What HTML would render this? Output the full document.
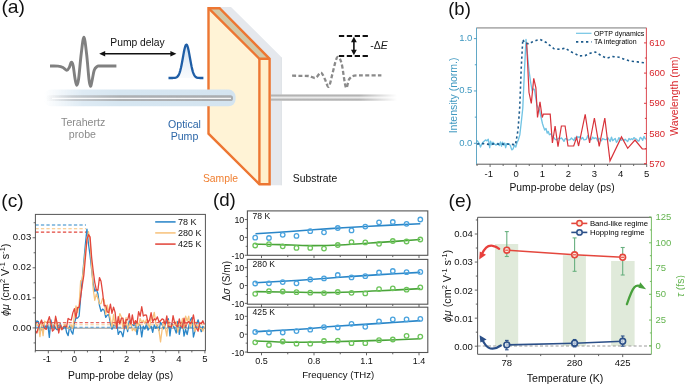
<!DOCTYPE html>
<html><head><meta charset="utf-8"><title>Figure</title>
<style>
html,body{margin:0;padding:0;background:#ffffff;width:685px;height:384px;overflow:hidden;}
svg{display:block;will-change:transform;}
text{font-family:"Liberation Sans", sans-serif;}
</style></head><body>
<svg width="685" height="384" viewBox="0 0 685 384">
<rect width="685" height="384" fill="#ffffff"/>
<defs>
<linearGradient id="glowH" x1="0" y1="0" x2="1" y2="0">
<stop offset="0" stop-color="#d8e7f2" stop-opacity="0"/>
<stop offset="0.2" stop-color="#d8e7f2" stop-opacity="0.85"/>
<stop offset="0.4" stop-color="#d6e6f1" stop-opacity="1"/>
<stop offset="1" stop-color="#d4e4f0" stop-opacity="1"/>
</linearGradient>
<linearGradient id="tubeH" x1="0" y1="0" x2="1" y2="0">
<stop offset="0" stop-color="#b4b6b8" stop-opacity="0"/>
<stop offset="0.15" stop-color="#b4b6b8" stop-opacity="0.6"/>
<stop offset="0.4" stop-color="#abaeb1" stop-opacity="0.95"/>
<stop offset="1" stop-color="#aaadb0" stop-opacity="1"/>
</linearGradient>
<linearGradient id="beamR" x1="0" y1="0" x2="1" y2="0">
<stop offset="0" stop-color="#b4b6b8" stop-opacity="1"/>
<stop offset="0.7" stop-color="#c0c0c0" stop-opacity="0.9"/>
<stop offset="1" stop-color="#d0d0d0" stop-opacity="0"/>
</linearGradient>
<linearGradient id="beamRc" x1="0" y1="0" x2="1" y2="0">
<stop offset="0" stop-color="#f4f4f4" stop-opacity="1"/>
<stop offset="1" stop-color="#ffffff" stop-opacity="0.6"/>
</linearGradient>
<linearGradient id="beamV" x1="0" y1="0" x2="0" y2="1">
<stop offset="0" stop-color="#c4c4c4"/>
<stop offset="0.2" stop-color="#b2b2b2"/>
<stop offset="0.5" stop-color="#ececec"/>
<stop offset="0.8" stop-color="#b2b2b2"/>
<stop offset="1" stop-color="#c8c8c8"/>
</linearGradient>
<linearGradient id="fadeRg" x1="271" y1="0" x2="397" y2="0" gradientUnits="userSpaceOnUse">
<stop offset="0" stop-color="#fff"/>
<stop offset="0.7" stop-color="#fff"/>
<stop offset="1" stop-color="#000"/>
</linearGradient>
<mask id="fadeR" maskUnits="userSpaceOnUse" x="260" y="85" width="150" height="25"><rect x="260" y="85" width="150" height="25" fill="url(#fadeRg)"/></mask>
<linearGradient id="pulseFill" x1="0" y1="0" x2="0" y2="1">
<stop offset="0" stop-color="#c9dcef" stop-opacity="0.9"/>
<stop offset="1" stop-color="#eef4fa" stop-opacity="0.4"/>
</linearGradient>
<filter id="blur05" x="-5%" y="-50%" width="110%" height="200%"><feGaussianBlur stdDeviation="0.55"/></filter>
<filter id="blur1" x="-10%" y="-50%" width="120%" height="200%"><feGaussianBlur stdDeviation="0.9"/></filter>
</defs>
<text x="1.4" y="12.9" font-size="17.8" fill="#111" text-anchor="start" textLength="23.6" lengthAdjust="spacingAndGlyphs">(a)</text>
<polygon points="219,6.9 231,6.9 281.8,57.5 281.8,185.3 268,185.3 268,58" fill="#e5e8ed"/>
<line x1="281.4" y1="57.5" x2="281.4" y2="185.3" stroke="#dcdfe4" stroke-width="0.8"/>
<g mask="url(#fadeR)"><rect x="271" y="94.3" width="126" height="6.6" fill="url(#beamV)" filter="url(#blur05)"/></g>
<polygon points="208.5,8.2 259.4,58.8 259.4,184.2 208.5,133.7" fill="#fff3d6"/>
<polygon points="208.5,8.2 219.6,8.2 269.6,58.8 259.4,58.8" fill="#d1c9a8"/>
<polygon points="259.4,58.8 269.6,58.8 269.6,184.2 259.4,184.2" fill="#ffefcb"/>
<polyline points="208.5,8.2 259.4,58.8 269.6,58.8" fill="none" stroke="#ed7632" stroke-width="2.4" stroke-linejoin="miter"/>
<line x1="259.4" y1="58.8" x2="259.4" y2="184.2" stroke="#ed7632" stroke-width="2.4"/>
<polygon points="208.5,8.2 219.6,8.2 269.6,58.8 269.6,184.2 259.4,184.2 208.5,133.7" fill="none" stroke="#ed7632" stroke-width="2.4" stroke-linejoin="miter"/>
<rect x="44" y="89.6" width="191.6" height="16.6" rx="7" fill="url(#glowH)" filter="url(#blur05)"/>
<rect x="46" y="95.2" width="187" height="5.8" rx="2.6" fill="url(#tubeH)" filter="url(#blur05)"/>
<rect x="52" y="97.8" width="179" height="1.1" fill="#ffffff"/>
<path d="M50,66 C51.33,66.02 55.83,65.85 58,66.1 C60.17,66.35 61.53,66.78 63,67.5 C64.47,68.22 65.73,70.45 66.8,70.4 C67.87,70.35 68.67,68.57 69.4,67.2 C70.13,65.83 70.58,62.48 71.2,62.2 C71.82,61.92 72.47,62.78 73.1,65.5 C73.73,68.22 74.4,75.2 75,78.5 C75.6,81.8 76.1,85.22 76.7,85.3 C77.3,85.38 77.85,84.22 78.6,79 C79.35,73.78 80.32,60.97 81.2,54 C82.08,47.03 83,37.2 83.9,37.2 C84.8,37.2 85.75,46.95 86.6,54 C87.45,61.05 88.35,74.12 89,79.5 C89.65,84.88 89.98,86.13 90.5,86.3 C91.02,86.47 91.48,83.18 92.1,80.5 C92.72,77.82 93.38,72.52 94.2,70.2 C95.02,67.88 96.03,67.3 97,66.6 C97.97,65.9 96.77,66.1 100,66 C103.23,65.9 113.67,66 116.4,66" fill="none" stroke="#808080" stroke-width="2.9" stroke-linejoin="round" stroke-linecap="butt"/>
<line x1="103" y1="53.7" x2="172.5" y2="53.7" stroke="#111" stroke-width="1.5" />
<polygon points="99.2,53.7 105.2,50.9 105.2,56.5" fill="#111"/>
<polygon points="176.4,53.7 170.4,50.9 170.4,56.5" fill="#111"/>
<text x="110.3" y="45.7" font-size="10.3" fill="#111" text-anchor="start" >Pump delay</text>
<path d="M168.5,78 L169.09,78 L169.68,78 L170.27,78 L170.87,78 L171.46,78 L172.05,77.99 L172.64,77.98 L173.23,77.97 L173.82,77.94 L174.42,77.89 L175.01,77.81 L175.6,77.69 L176.19,77.48 L176.78,77.17 L177.37,76.72 L177.96,76.06 L178.56,75.15 L179.15,73.93 L179.74,72.34 L180.33,70.35 L180.92,67.94 L181.51,65.15 L182.11,62.03 L182.7,58.7 L183.29,55.33 L183.88,52.09 L184.47,49.22 L185.06,46.91 L185.65,45.33 L186.25,44.63 L186.84,44.85 L187.43,45.98 L188.02,47.93 L188.61,50.54 L189.2,53.61 L189.79,56.94 L190.39,60.31 L190.98,63.56 L191.57,66.53 L192.16,69.14 L192.75,71.35 L193.34,73.15 L193.94,74.55 L194.53,75.62 L195.12,76.4 L195.71,76.96 L196.3,77.34 L196.89,77.59 L197.48,77.75 L198.08,77.86 L198.67,77.92 L199.26,77.96 L199.85,77.98 L200.44,77.99 L201.03,77.99 L201.63,78 L202.22,78 L202.81,78 L203.4,78 L203.4,78 Z" fill="url(#pulseFill)" stroke="none"/>
<path d="M168.5,78 L169.09,78 L169.68,78 L170.27,78 L170.87,78 L171.46,78 L172.05,77.99 L172.64,77.98 L173.23,77.97 L173.82,77.94 L174.42,77.89 L175.01,77.81 L175.6,77.69 L176.19,77.48 L176.78,77.17 L177.37,76.72 L177.96,76.06 L178.56,75.15 L179.15,73.93 L179.74,72.34 L180.33,70.35 L180.92,67.94 L181.51,65.15 L182.11,62.03 L182.7,58.7 L183.29,55.33 L183.88,52.09 L184.47,49.22 L185.06,46.91 L185.65,45.33 L186.25,44.63 L186.84,44.85 L187.43,45.98 L188.02,47.93 L188.61,50.54 L189.2,53.61 L189.79,56.94 L190.39,60.31 L190.98,63.56 L191.57,66.53 L192.16,69.14 L192.75,71.35 L193.34,73.15 L193.94,74.55 L194.53,75.62 L195.12,76.4 L195.71,76.96 L196.3,77.34 L196.89,77.59 L197.48,77.75 L198.08,77.86 L198.67,77.92 L199.26,77.96 L199.85,77.98 L200.44,77.99 L201.03,77.99 L201.63,78 L202.22,78 L202.81,78 L203.4,78" fill="none" stroke="#1f5ea6" stroke-width="2.3" stroke-linejoin="round"/>
<path d="M292.1,75.7 C293.42,75.72 297.23,75.75 300,75.8 C302.77,75.85 306.12,75.65 308.7,76 C311.28,76.35 313.47,78.47 315.5,77.9 C317.53,77.33 319.35,72.42 320.9,72.6 C322.45,72.78 323.5,76.65 324.8,79 C326.1,81.35 327.43,87.53 328.7,86.7 C329.97,85.87 331.22,78.37 332.4,74 C333.58,69.63 334.82,63.32 335.8,60.5 C336.78,57.68 337.32,56.55 338.3,57.1 C339.28,57.65 340.43,58.73 341.7,63.8 C342.97,68.87 344.63,84.97 345.9,87.5 C347.17,90.03 347.88,80.97 349.3,79 C350.72,77.03 351.78,76.3 354.4,75.7 C357.02,75.1 360.5,75.47 365,75.4 C369.5,75.33 378.67,75.32 381.4,75.3" fill="none" stroke="#8a8a8a" stroke-width="2.3" stroke-dasharray="4 2.3"/>
<line x1="338.9" y1="36" x2="368.5" y2="36" stroke="#111" stroke-width="2" stroke-dasharray="5.3 2.6"/>
<line x1="338.9" y1="56" x2="368.5" y2="56" stroke="#111" stroke-width="2" stroke-dasharray="5.3 2.6"/>
<line x1="353.9" y1="40" x2="353.9" y2="52" stroke="#111" stroke-width="1.6" />
<polygon points="353.9,36.8 351,42.2 356.8,42.2" fill="#111"/>
<polygon points="353.9,55.2 351,49.8 356.8,49.8" fill="#111"/>
<text x="370.2" y="48.8" font-size="10.5" fill="#1a1a1a">-&#916;<tspan font-style="italic">E</tspan></text>
<text x="83.2" y="126.4" font-size="10.6" fill="#8a8a8a" text-anchor="middle" >Terahertz</text>
<text x="82.4" y="138" font-size="10.6" fill="#8a8a8a" text-anchor="middle" >probe</text>
<text x="184.5" y="127.8" font-size="10.6" fill="#2d67a8" text-anchor="middle" >Optical</text>
<text x="184.5" y="139.6" font-size="10.6" fill="#2d67a8" text-anchor="middle" >Pump</text>
<text x="220.5" y="181.5" font-size="10.4" fill="#f07f30" text-anchor="middle" >Sample</text>
<text x="315" y="181.5" font-size="10.4" fill="#111" text-anchor="middle" >Substrate</text>
<text x="448.2" y="14.9" font-size="17.8" fill="#111" text-anchor="start" textLength="22.6" lengthAdjust="spacingAndGlyphs">(b)</text>
<defs><clipPath id="cb"><rect x="476.5" y="27.8" width="169.9" height="136.4"/></clipPath></defs>
<polyline points="476,140 477.5,141.1 479.3,143.7 480.5,147 481.8,144 483.3,141.9 485.5,139.9 487,140.8 488.3,139.3 489.1,144 489.7,147.7 490.6,141.1 491.7,144.8 492.9,142.2 494.2,143.7 496.1,145.1 497.9,143.3 499.4,145.5 500.5,141.9 501.5,146.2 502.6,142.2 503.7,145.1 504.8,143 505.6,147.7 506.7,143.7 508.8,143.7 510.3,145.5 511.8,149.9 513.2,148.8 514.3,145.1 515.8,147 516.9,143 518.3,140 519.8,134.9 521.3,122 522.8,108 524.4,72 526,39.4 527.5,55 529,70.6 530.6,82 532.2,91 533.3,89 534.4,89.4 535.6,97 536.9,105 538.2,108 539.4,109.7 541,117 542.5,123.75 543.6,127 544.7,130 546,128.5 547.2,133 548.3,131.5 549.4,134.7 551,133.8 552.2,136.5 554,137.8 555.2,139.4 556.45,139.85 557.7,138.99 558.95,138.06 560.2,138.72 561.45,137.91 562.7,139.49 563.95,141.41 565.2,138.66 566.45,138.47 567.7,140.13 568.95,139.94 570.2,139.56 571.45,138 572.7,139.36 573.95,140.44 575.2,137.38 576.45,138.71 577.7,136.55 578.95,137.47 580.2,136.64 581.45,139.05 582.7,137.5 583.95,139.81 585.2,139.64 586.45,139.12 587.7,135.62 588.95,138.59 590.2,139.33 591.45,139.57 592.7,137.1 593.95,138.68 595.2,137.93 596.45,138.19 597.7,140.99 598.95,138.19 600.2,139.35 601.45,140.73 602.7,138.52 603.95,139.23 605.2,139.57 606.45,139.5 607.7,137.56 608.95,139.51 610.2,141.44 611.45,137.08 612.7,140.69 613.95,139.58 615.2,138.44 616.45,142.4 617.7,140.54 618.95,137.6 620.2,139.51 621.45,140.27 622.7,139.12 623.95,140.42 625.2,139.3 626.45,140.4 627.7,141.56 628.95,138.39 630.2,139.7 631.45,138.71 632.7,139.59 633.95,137.62 635.2,138.53 636.45,139.11 637.7,140.75 638.95,141.12 640.2,137.41 641.45,138.21 642.7,140.37 643.95,136.41 645.2,138.71 646.45,139.25" fill="none" stroke="#72c4e4" stroke-width="1.35" stroke-linejoin="round" clip-path="url(#cb)"/>
<polyline points="526.6,42.5 529,92.5 531.3,103.4 533.75,78.4 535.9,87.8 537.5,117.5 540,101.9 542.2,117.5 543.4,114.1 550.2,114.1 552.4,143 555.1,126 558,146.6 561.4,126 565.1,126 568,146 573.7,146 576.6,137.4 578.6,146 585.2,114.4 589.6,143 594.4,118 599.2,146.3 604.8,118 610,160.8 621.5,136.9 627.7,148.3 635,140 642.3,149 646.5,149" fill="none" stroke="#d8323a" stroke-width="1.2" stroke-linejoin="miter" clip-path="url(#cb)"/>
<polyline points="477,144 483,143.6 489,144.4 495,143.8 501,144.2 507,144 512,144.4 515.5,144.8 518,130 519.7,108 521.25,67.5 522.8,39.4 524.4,42.5 529,44 532.2,41.9 536,40.5 540,39.4 546.25,42.5 554,48.75 560.3,49.4 565.3,48 570.5,51.7 575.1,53.6 579,55.9 585,55.6 590.2,53.2 595.5,52 600.7,55.3 606.6,58.2 612.6,56.6 619.1,57.2 625,59.5 631,61.2 637.5,61.9 644.1,62.8 646.4,63.2" fill="none" stroke="#1d5b8c" stroke-width="1.6" stroke-dasharray="2.3 2.7" clip-path="url(#cb)"/>
<line x1="476.5" y1="27.9" x2="646.4" y2="27.9" stroke="#b2b2b2" stroke-width="1.7" />
<line x1="476" y1="164.2" x2="646.9" y2="164.2" stroke="#5a5a5a" stroke-width="1" />
<line x1="476.5" y1="27.8" x2="476.5" y2="164.2" stroke="#62a8c6" stroke-width="1" />
<line x1="646.4" y1="27.8" x2="646.4" y2="164.2" stroke="#dc4a52" stroke-width="1" />
<line x1="477.05" y1="164.2" x2="477.05" y2="166" stroke="#5a5a5a" stroke-width="0.9" />
<line x1="490.1" y1="164.2" x2="490.1" y2="167" stroke="#5a5a5a" stroke-width="0.9" />
<line x1="503.15" y1="164.2" x2="503.15" y2="166" stroke="#5a5a5a" stroke-width="0.9" />
<line x1="516.2" y1="164.2" x2="516.2" y2="167" stroke="#5a5a5a" stroke-width="0.9" />
<line x1="529.25" y1="164.2" x2="529.25" y2="166" stroke="#5a5a5a" stroke-width="0.9" />
<line x1="542.3" y1="164.2" x2="542.3" y2="167" stroke="#5a5a5a" stroke-width="0.9" />
<line x1="555.35" y1="164.2" x2="555.35" y2="166" stroke="#5a5a5a" stroke-width="0.9" />
<line x1="568.4" y1="164.2" x2="568.4" y2="167" stroke="#5a5a5a" stroke-width="0.9" />
<line x1="581.45" y1="164.2" x2="581.45" y2="166" stroke="#5a5a5a" stroke-width="0.9" />
<line x1="594.5" y1="164.2" x2="594.5" y2="167" stroke="#5a5a5a" stroke-width="0.9" />
<line x1="607.55" y1="164.2" x2="607.55" y2="166" stroke="#5a5a5a" stroke-width="0.9" />
<line x1="620.6" y1="164.2" x2="620.6" y2="167" stroke="#5a5a5a" stroke-width="0.9" />
<line x1="633.65" y1="164.2" x2="633.65" y2="166" stroke="#5a5a5a" stroke-width="0.9" />
<line x1="646.7" y1="164.2" x2="646.7" y2="167" stroke="#5a5a5a" stroke-width="0.9" />
<text x="488.7" y="176.7" font-size="9.5" fill="#111" text-anchor="middle" >-1</text>
<text x="516.2" y="176.7" font-size="9.5" fill="#111" text-anchor="middle" >0</text>
<text x="542.3" y="176.7" font-size="9.5" fill="#111" text-anchor="middle" >1</text>
<text x="568.4" y="176.7" font-size="9.5" fill="#111" text-anchor="middle" >2</text>
<text x="594.5" y="176.7" font-size="9.5" fill="#111" text-anchor="middle" >3</text>
<text x="620.6" y="176.7" font-size="9.5" fill="#111" text-anchor="middle" >4</text>
<text x="646.7" y="176.7" font-size="9.5" fill="#111" text-anchor="middle" >5</text>
<line x1="473.9" y1="143.3" x2="476.5" y2="143.3" stroke="#3f98c0" stroke-width="0.9" />
<line x1="474.8" y1="117.13" x2="476.5" y2="117.13" stroke="#3f98c0" stroke-width="0.9" />
<line x1="473.9" y1="90.95" x2="476.5" y2="90.95" stroke="#3f98c0" stroke-width="0.9" />
<line x1="474.8" y1="64.78" x2="476.5" y2="64.78" stroke="#3f98c0" stroke-width="0.9" />
<line x1="473.9" y1="38.6" x2="476.5" y2="38.6" stroke="#3f98c0" stroke-width="0.9" />
<text x="472.4" y="145.6" font-size="9.5" fill="#3f98c0" text-anchor="end" >0.0</text>
<text x="472.4" y="93.25" font-size="9.5" fill="#3f98c0" text-anchor="end" >0.5</text>
<text x="472.4" y="40.9" font-size="9.5" fill="#3f98c0" text-anchor="end" >1.0</text>
<line x1="644" y1="163.7" x2="646.4" y2="163.7" stroke="#d8262c" stroke-width="0.9" />
<line x1="644.9" y1="148.6" x2="646.4" y2="148.6" stroke="#d8262c" stroke-width="0.9" />
<line x1="644" y1="133.5" x2="646.4" y2="133.5" stroke="#d8262c" stroke-width="0.9" />
<line x1="644.9" y1="118.4" x2="646.4" y2="118.4" stroke="#d8262c" stroke-width="0.9" />
<line x1="644" y1="103.3" x2="646.4" y2="103.3" stroke="#d8262c" stroke-width="0.9" />
<line x1="644.9" y1="88.2" x2="646.4" y2="88.2" stroke="#d8262c" stroke-width="0.9" />
<line x1="644" y1="73.1" x2="646.4" y2="73.1" stroke="#d8262c" stroke-width="0.9" />
<line x1="644.9" y1="58" x2="646.4" y2="58" stroke="#d8262c" stroke-width="0.9" />
<line x1="644" y1="42.9" x2="646.4" y2="42.9" stroke="#d8262c" stroke-width="0.9" />
<text x="649.3" y="166.8" font-size="9.5" fill="#d8262c" text-anchor="start" >570</text>
<text x="649.3" y="136.6" font-size="9.5" fill="#d8262c" text-anchor="start" >580</text>
<text x="649.3" y="106.4" font-size="9.5" fill="#d8262c" text-anchor="start" >590</text>
<text x="649.3" y="76.2" font-size="9.5" fill="#d8262c" text-anchor="start" >600</text>
<text x="649.3" y="46" font-size="9.5" fill="#d8262c" text-anchor="start" >610</text>
<text x="562" y="191.4" font-size="10.35" fill="#111" text-anchor="middle" >Pump-probe delay (ps)</text>
<text transform="translate(457.4,95.4) rotate(-90)" font-size="10.5" fill="#3f98c0" text-anchor="middle">Intensity (norm.)</text>
<text transform="translate(677.5,96) rotate(-90)" font-size="10.5" fill="#d8262c" text-anchor="middle">Wavelength (nm)</text>
<line x1="576" y1="33.3" x2="591.5" y2="33.3" stroke="#72c4e4" stroke-width="1.2" />
<line x1="576" y1="41.8" x2="591.5" y2="41.8" stroke="#1d5b8c" stroke-width="1.7" stroke-dasharray="2.3 2.7"/>
<text x="593.9" y="35.8" font-size="7" fill="#000" text-anchor="start" >OPTP dynamics</text>
<text x="593.9" y="44.3" font-size="7" fill="#000" text-anchor="start" >TA integration</text>
<text x="1.3" y="207.3" font-size="17.8" fill="#111" text-anchor="start" textLength="22.3" lengthAdjust="spacingAndGlyphs">(c)</text>
<defs><clipPath id="cc"><rect x="35.4" y="214.4" width="170" height="136.2"/></clipPath></defs>
<line x1="35.4" y1="328.2" x2="205.4" y2="328.2" stroke="#8a8a8a" stroke-width="0.9" />
<polyline points="35.25,327.73 36.82,320.95 38.38,321.64 39.95,330.51 41.51,329.42 43.08,330.59 44.65,324.99 46.21,328.19 47.78,324.08 49.34,337.34 50.91,319.9 52.48,328.39 54.04,324.42 55.61,328.6 57.17,329.84 58.74,325.53 60.31,323.69 61.87,328.93 63.44,328.68 65,324.4 66.57,332.35 68.14,335.64 69.7,325.88 71.27,331.33 72.83,334.1 74.4,323.04 75.97,317.84 77.53,318.11 79.1,316.21 80.66,297.66 82.23,279.82 83.8,261.79 85.36,244.6 86.93,229.1 88.49,243.96 90.06,255.42 91.63,269.49 93.19,283.77 94.76,291.24 96.32,289.44 97.89,293.47 99.46,305.3 101.02,311.41 102.59,309.16 104.15,310.2 105.72,317.38 107.29,315.05 108.85,314.6 110.42,323.63 111.98,329.37 113.55,324.84 115.12,326.12 116.68,322.29 118.25,334.46 119.81,331.28 121.38,332.18 122.95,336.76 124.51,327.25 126.08,325.2 127.64,331.67 129.21,320.82 130.78,323.7 132.34,324.7 133.91,325.85 135.47,323.02 137.04,334.7 138.61,324.76 140.17,324.82 141.74,336.93 143.3,326.13 144.87,329.18 146.44,323.91 148,330.14 149.57,327.99 151.13,326.15 152.7,332.38 154.27,324.84 155.83,328.44 157.4,325.38 158.96,330.57 160.53,322.35 162.1,324.81 163.66,328.81 165.23,324.67 166.79,321.46 168.36,318.75 169.93,335.94 171.49,323.39 173.06,325.52 174.62,328.38 176.19,333.04 177.76,321.48 179.32,334.35 180.89,325 182.45,321.25 184.02,336.07 185.59,329.45 187.15,334.59 188.72,326.65 190.28,320.16 191.85,317.56 193.42,336.98 194.98,330.84 196.55,324.31 198.11,319.83 199.68,325.75 201.25,331.71 202.81,326.38 204.38,327.98" fill="none" stroke="#2a86c8" stroke-width="1.3" stroke-linejoin="round" clip-path="url(#cc)"/>
<polyline points="35.25,322.84 36.82,324.45 38.38,325.77 39.95,336.65 41.51,323.42 43.08,335.72 44.65,321.12 46.21,322.58 47.78,321.51 49.34,321.52 50.91,324.06 52.48,328.07 54.04,326.97 55.61,318.25 57.17,328.3 58.74,326.59 60.31,328.98 61.87,327.98 63.44,326.97 65,324.26 66.57,326.91 68.14,327.2 69.7,328.46 71.27,325.07 72.83,328.11 74.4,315.63 75.97,305.98 77.53,312.36 79.1,305.28 80.66,280.7 82.23,279.82 83.8,265.4 85.36,251.85 86.93,240.06 88.49,231.74 90.06,240.76 91.63,266.2 93.19,288.96 94.76,300.25 96.32,293.94 97.89,298.3 99.46,303.84 101.02,303.63 102.59,298.42 104.15,299.66 105.72,314.45 107.29,305.03 108.85,312.17 110.42,319 111.98,327.25 113.55,314.69 115.12,325.48 116.68,321.06 118.25,322.14 119.81,313.57 121.38,316.94 122.95,328.18 124.51,323.92 126.08,317.71 127.64,329.13 129.21,324.64 130.78,321.69 132.34,330.59 133.91,328.79 135.47,331.08 137.04,321.54 138.61,325.65 140.17,318.51 141.74,322.46 143.3,320.29 144.87,323.48 146.44,319.49 148,323.63 149.57,327.89 151.13,317.51 152.7,318.52 154.27,312.37 155.83,323.98 157.4,326.12 158.96,330.32 160.53,341.95 162.1,329.72 163.66,321.12 165.23,327.75 166.79,336 168.36,320.63 169.93,326.43 171.49,325.35 173.06,325.72 174.62,324.33 176.19,321.43 177.76,332.08 179.32,324.87 180.89,326.25 182.45,318.37 184.02,328.85 185.59,316.03 187.15,321.01 188.72,316.15 190.28,327.38 191.85,320.15 193.42,322.31 194.98,331.29 196.55,325.38 198.11,326.33 199.68,328.83 201.25,327.91 202.81,331.17 204.38,326.53" fill="none" stroke="#f7c27c" stroke-width="1.3" stroke-linejoin="round" clip-path="url(#cc)"/>
<polyline points="35.25,330.49 36.82,333.01 38.38,327.37 39.95,323.8 41.51,319.99 43.08,325.09 44.65,328.32 46.21,329.35 47.78,321.37 49.34,316.69 50.91,323.5 52.48,331.05 54.04,329.49 55.61,316.27 57.17,323.26 58.74,332.99 60.31,324.42 61.87,329.79 63.44,326.91 65,326.04 66.57,327.04 68.14,318.46 69.7,319.51 71.27,320.09 72.83,312.89 74.4,308.64 75.97,317.83 77.53,307.32 79.1,307.58 80.66,296.67 82.23,285.64 83.8,275.5 85.36,258.21 86.93,239.48 88.49,234.68 90.06,236.85 91.63,257.2 93.19,270.77 94.76,282.35 96.32,289.92 97.89,290.41 99.46,277.61 101.02,281.26 102.59,292.34 104.15,305.79 105.72,305.38 107.29,311.84 108.85,312.71 110.42,304.15 111.98,313.43 113.55,307.2 115.12,312.37 116.68,328.2 118.25,316.68 119.81,323.77 121.38,318.05 122.95,318.07 124.51,328.53 126.08,319.64 127.64,319.82 129.21,313.68 130.78,324.7 132.34,314.97 133.91,324.43 135.47,320.58 137.04,323.26 138.61,311.64 140.17,316.21 141.74,306.76 143.3,315.98 144.87,315.02 146.44,315.12 148,322.58 149.57,319.92 151.13,312.74 152.7,321.73 154.27,318.82 155.83,319.97 157.4,316.82 158.96,321.87 160.53,320.86 162.1,318.92 163.66,319.7 165.23,324.72 166.79,315.8 168.36,327.09 169.93,326.66 171.49,327.15 173.06,315.74 174.62,322.59 176.19,325.79 177.76,326.7 179.32,318.82 180.89,326.44 182.45,327.62 184.02,318.06 185.59,327.39 187.15,322.99 188.72,321.46 190.28,323.77 191.85,321.85 193.42,314.81 194.98,324.36 196.55,328.23 198.11,331.25 199.68,322.99 201.25,323.82 202.81,320.74 204.38,324.54" fill="none" stroke="#e2463c" stroke-width="1.3" stroke-linejoin="round" clip-path="url(#cc)"/>
<line x1="35.4" y1="225" x2="86" y2="225" stroke="#2a86c8" stroke-width="1.1" stroke-dasharray="3.3 2.2"/>
<line x1="35.4" y1="228.7" x2="86" y2="228.7" stroke="#f7c27c" stroke-width="1.1" stroke-dasharray="3.3 2.2"/>
<line x1="35.4" y1="232.1" x2="86" y2="232.1" stroke="#e2463c" stroke-width="1.1" stroke-dasharray="3.3 2.2"/>
<line x1="35.4" y1="322.6" x2="205.4" y2="322.6" stroke="#e2463c" stroke-width="1.1" stroke-dasharray="3.3 2.2" opacity="0.8"/>
<line x1="35.4" y1="324.8" x2="205.4" y2="324.8" stroke="#f7c27c" stroke-width="1.1" stroke-dasharray="3.3 2.2" opacity="0.8"/>
<line x1="35.4" y1="327.3" x2="205.4" y2="327.3" stroke="#2a86c8" stroke-width="1.1" stroke-dasharray="3.3 2.2" opacity="0.8"/>
<rect x="35.4" y="214.4" width="170" height="136.2" fill="none" stroke="#555" stroke-width="1"/>
<line x1="35.25" y1="350.6" x2="35.25" y2="352.4" stroke="#555" stroke-width="0.9" />
<line x1="48.3" y1="350.6" x2="48.3" y2="353.4" stroke="#555" stroke-width="0.9" />
<line x1="61.35" y1="350.6" x2="61.35" y2="352.4" stroke="#555" stroke-width="0.9" />
<line x1="74.4" y1="350.6" x2="74.4" y2="353.4" stroke="#555" stroke-width="0.9" />
<line x1="87.45" y1="350.6" x2="87.45" y2="352.4" stroke="#555" stroke-width="0.9" />
<line x1="100.5" y1="350.6" x2="100.5" y2="353.4" stroke="#555" stroke-width="0.9" />
<line x1="113.55" y1="350.6" x2="113.55" y2="352.4" stroke="#555" stroke-width="0.9" />
<line x1="126.6" y1="350.6" x2="126.6" y2="353.4" stroke="#555" stroke-width="0.9" />
<line x1="139.65" y1="350.6" x2="139.65" y2="352.4" stroke="#555" stroke-width="0.9" />
<line x1="152.7" y1="350.6" x2="152.7" y2="353.4" stroke="#555" stroke-width="0.9" />
<line x1="165.75" y1="350.6" x2="165.75" y2="352.4" stroke="#555" stroke-width="0.9" />
<line x1="178.8" y1="350.6" x2="178.8" y2="353.4" stroke="#555" stroke-width="0.9" />
<line x1="191.85" y1="350.6" x2="191.85" y2="352.4" stroke="#555" stroke-width="0.9" />
<line x1="204.9" y1="350.6" x2="204.9" y2="353.4" stroke="#555" stroke-width="0.9" />
<text x="46.9" y="362.3" font-size="9.5" fill="#111" text-anchor="middle" >-1</text>
<text x="74.4" y="362.3" font-size="9.5" fill="#111" text-anchor="middle" >0</text>
<text x="100.5" y="362.3" font-size="9.5" fill="#111" text-anchor="middle" >1</text>
<text x="126.6" y="362.3" font-size="9.5" fill="#111" text-anchor="middle" >2</text>
<text x="152.7" y="362.3" font-size="9.5" fill="#111" text-anchor="middle" >3</text>
<text x="178.8" y="362.3" font-size="9.5" fill="#111" text-anchor="middle" >4</text>
<text x="204.9" y="362.3" font-size="9.5" fill="#111" text-anchor="middle" >5</text>
<line x1="33.6" y1="342.92" x2="35.4" y2="342.92" stroke="#555" stroke-width="0.9" />
<line x1="32.6" y1="327.9" x2="35.4" y2="327.9" stroke="#555" stroke-width="0.9" />
<line x1="33.6" y1="312.88" x2="35.4" y2="312.88" stroke="#555" stroke-width="0.9" />
<line x1="32.6" y1="297.85" x2="35.4" y2="297.85" stroke="#555" stroke-width="0.9" />
<line x1="33.6" y1="282.82" x2="35.4" y2="282.82" stroke="#555" stroke-width="0.9" />
<line x1="32.6" y1="267.8" x2="35.4" y2="267.8" stroke="#555" stroke-width="0.9" />
<line x1="33.6" y1="252.77" x2="35.4" y2="252.77" stroke="#555" stroke-width="0.9" />
<line x1="32.6" y1="237.75" x2="35.4" y2="237.75" stroke="#555" stroke-width="0.9" />
<line x1="33.6" y1="222.72" x2="35.4" y2="222.72" stroke="#555" stroke-width="0.9" />
<text x="31.2" y="330.5" font-size="9.5" fill="#111" text-anchor="end" >0.00</text>
<text x="31.2" y="300.45" font-size="9.5" fill="#111" text-anchor="end" >0.01</text>
<text x="31.2" y="270.4" font-size="9.5" fill="#111" text-anchor="end" >0.02</text>
<text x="31.2" y="240.35" font-size="9.5" fill="#111" text-anchor="end" >0.03</text>
<text x="120.6" y="378.6" font-size="10.35" fill="#111" text-anchor="middle" >Pump-probe delay (ps)</text>
<text transform="translate(9.0,279.8) rotate(-90)" font-size="10.8" fill="#1a1a1a" text-anchor="middle"><tspan font-style="italic">&#981;&#956;</tspan> (cm<tspan font-size="7.4" dy="-3.6">2</tspan><tspan dy="3.6"> V</tspan><tspan font-size="7.4" dy="-3.6">-1</tspan><tspan dy="3.6"> s</tspan><tspan font-size="7.4" dy="-3.6">-1</tspan><tspan dy="3.6">)</tspan></text>
<line x1="155.2" y1="221.9" x2="175.6" y2="221.9" stroke="#2a86c8" stroke-width="1.8" opacity="0.85"/>
<text x="178" y="225" font-size="9" fill="#111" text-anchor="start" >78 K</text>
<line x1="155.2" y1="232.9" x2="175.6" y2="232.9" stroke="#f7c27c" stroke-width="1.8" opacity="0.85"/>
<text x="178" y="236" font-size="9" fill="#111" text-anchor="start" >280 K</text>
<line x1="155.2" y1="244.1" x2="175.6" y2="244.1" stroke="#e2463c" stroke-width="1.8" opacity="0.85"/>
<text x="178" y="247.2" font-size="9" fill="#111" text-anchor="start" >425 K</text>
<text x="212.9" y="206.4" font-size="17.8" fill="#111" text-anchor="start" textLength="22.9" lengthAdjust="spacingAndGlyphs">(d)</text>
<rect x="247.4" y="210.9" width="180.4" height="44.4" fill="none" stroke="#555" stroke-width="1.1"/>
<line x1="244.8" y1="219.54" x2="247.4" y2="219.54" stroke="#555" stroke-width="0.9" />
<line x1="244.8" y1="237.4" x2="247.4" y2="237.4" stroke="#555" stroke-width="0.9" />
<line x1="244.8" y1="255.26" x2="247.4" y2="255.26" stroke="#555" stroke-width="0.9" />
<line x1="245.7" y1="228.47" x2="247.4" y2="228.47" stroke="#555" stroke-width="0.9" />
<line x1="245.7" y1="246.33" x2="247.4" y2="246.33" stroke="#555" stroke-width="0.9" />
<line x1="261.5" y1="255.3" x2="261.5" y2="258.1" stroke="#555" stroke-width="0.9" />
<line x1="314" y1="255.3" x2="314" y2="258.1" stroke="#555" stroke-width="0.9" />
<line x1="366.5" y1="255.3" x2="366.5" y2="258.1" stroke="#555" stroke-width="0.9" />
<line x1="419" y1="255.3" x2="419" y2="258.1" stroke="#555" stroke-width="0.9" />
<line x1="287.75" y1="255.3" x2="287.75" y2="257.1" stroke="#555" stroke-width="0.9" />
<line x1="340.25" y1="255.3" x2="340.25" y2="257.1" stroke="#555" stroke-width="0.9" />
<line x1="392.75" y1="255.3" x2="392.75" y2="257.1" stroke="#555" stroke-width="0.9" />
<text x="244.3" y="223.14" font-size="8.9" fill="#111" text-anchor="end" >10</text>
<text x="244.3" y="241" font-size="8.9" fill="#111" text-anchor="end" >0</text>
<text x="244.3" y="258.86" font-size="8.9" fill="#111" text-anchor="end" >-10</text>
<text x="252.6" y="218.8" font-size="8.6" fill="#111" text-anchor="start" >78 K</text>
<path d="M255.5,233.8 C261.25,233.42 277.58,232.37 290,231.5 C302.42,230.63 316.67,229.48 330,228.6 C343.33,227.72 354.95,227 370,226.2 C385.05,225.4 411.92,224.2 420.3,223.8" fill="none" stroke="#2a86c8" stroke-width="1.6"/>
<path d="M255.5,244.2 C259.58,244.27 270.92,244.37 280,244.6 C289.08,244.83 300,245.53 310,245.6 C320,245.67 328.33,245.53 340,245 C351.67,244.47 366.62,243.32 380,242.4 C393.38,241.48 413.58,239.98 420.3,239.5" fill="none" stroke="#4aa43a" stroke-width="1.6"/>
<circle cx="255.2" cy="237.7" r="2.25" fill="none" stroke="#4aa3de" stroke-width="1.3"/>
<circle cx="268.96" cy="238" r="2.25" fill="none" stroke="#4aa3de" stroke-width="1.3"/>
<circle cx="282.72" cy="234.8" r="2.25" fill="none" stroke="#4aa3de" stroke-width="1.3"/>
<circle cx="296.48" cy="235.9" r="2.25" fill="none" stroke="#4aa3de" stroke-width="1.3"/>
<circle cx="310.24" cy="231.2" r="2.25" fill="none" stroke="#4aa3de" stroke-width="1.3"/>
<circle cx="324" cy="232.3" r="2.25" fill="none" stroke="#4aa3de" stroke-width="1.3"/>
<circle cx="337.76" cy="228" r="2.25" fill="none" stroke="#4aa3de" stroke-width="1.3"/>
<circle cx="351.52" cy="230.4" r="2.25" fill="none" stroke="#4aa3de" stroke-width="1.3"/>
<circle cx="365.28" cy="226.6" r="2.25" fill="none" stroke="#4aa3de" stroke-width="1.3"/>
<circle cx="379.04" cy="222.3" r="2.25" fill="none" stroke="#4aa3de" stroke-width="1.3"/>
<circle cx="392.8" cy="222" r="2.25" fill="none" stroke="#4aa3de" stroke-width="1.3"/>
<circle cx="406.56" cy="223.8" r="2.25" fill="none" stroke="#4aa3de" stroke-width="1.3"/>
<circle cx="420.32" cy="219.5" r="2.25" fill="none" stroke="#4aa3de" stroke-width="1.3"/>
<circle cx="255.2" cy="245.5" r="2.25" fill="none" stroke="#6cc45a" stroke-width="1.3"/>
<circle cx="268.96" cy="244.2" r="2.25" fill="none" stroke="#6cc45a" stroke-width="1.3"/>
<circle cx="282.72" cy="246.3" r="2.25" fill="none" stroke="#6cc45a" stroke-width="1.3"/>
<circle cx="296.48" cy="247.9" r="2.25" fill="none" stroke="#6cc45a" stroke-width="1.3"/>
<circle cx="310.24" cy="247.9" r="2.25" fill="none" stroke="#6cc45a" stroke-width="1.3"/>
<circle cx="324" cy="248.6" r="2.25" fill="none" stroke="#6cc45a" stroke-width="1.3"/>
<circle cx="337.76" cy="245" r="2.25" fill="none" stroke="#6cc45a" stroke-width="1.3"/>
<circle cx="351.52" cy="242.1" r="2.25" fill="none" stroke="#6cc45a" stroke-width="1.3"/>
<circle cx="365.28" cy="242.4" r="2.25" fill="none" stroke="#6cc45a" stroke-width="1.3"/>
<circle cx="379.04" cy="243.8" r="2.25" fill="none" stroke="#6cc45a" stroke-width="1.3"/>
<circle cx="392.8" cy="241" r="2.25" fill="none" stroke="#6cc45a" stroke-width="1.3"/>
<circle cx="406.56" cy="241.5" r="2.25" fill="none" stroke="#6cc45a" stroke-width="1.3"/>
<circle cx="420.32" cy="239.5" r="2.25" fill="none" stroke="#6cc45a" stroke-width="1.3"/>
<rect x="247.4" y="259.4" width="180.4" height="44.8" fill="none" stroke="#555" stroke-width="1.1"/>
<line x1="244.8" y1="267.64" x2="247.4" y2="267.64" stroke="#555" stroke-width="0.9" />
<line x1="244.8" y1="285.5" x2="247.4" y2="285.5" stroke="#555" stroke-width="0.9" />
<line x1="244.8" y1="303.36" x2="247.4" y2="303.36" stroke="#555" stroke-width="0.9" />
<line x1="245.7" y1="276.57" x2="247.4" y2="276.57" stroke="#555" stroke-width="0.9" />
<line x1="245.7" y1="294.43" x2="247.4" y2="294.43" stroke="#555" stroke-width="0.9" />
<line x1="261.5" y1="304.2" x2="261.5" y2="307" stroke="#555" stroke-width="0.9" />
<line x1="314" y1="304.2" x2="314" y2="307" stroke="#555" stroke-width="0.9" />
<line x1="366.5" y1="304.2" x2="366.5" y2="307" stroke="#555" stroke-width="0.9" />
<line x1="419" y1="304.2" x2="419" y2="307" stroke="#555" stroke-width="0.9" />
<line x1="287.75" y1="304.2" x2="287.75" y2="306" stroke="#555" stroke-width="0.9" />
<line x1="340.25" y1="304.2" x2="340.25" y2="306" stroke="#555" stroke-width="0.9" />
<line x1="392.75" y1="304.2" x2="392.75" y2="306" stroke="#555" stroke-width="0.9" />
<text x="244.3" y="271.24" font-size="8.9" fill="#111" text-anchor="end" >10</text>
<text x="244.3" y="289.1" font-size="8.9" fill="#111" text-anchor="end" >0</text>
<text x="244.3" y="306.96" font-size="8.9" fill="#111" text-anchor="end" >-10</text>
<text x="252.6" y="267.3" font-size="8.6" fill="#111" text-anchor="start" >280 K</text>
<path d="M255.5,282.8 C262.92,282.37 285.92,281.12 300,280.2 C314.08,279.28 326.67,278.23 340,277.3 C353.33,276.37 366.62,275.42 380,274.6 C393.38,273.78 413.58,272.77 420.3,272.4" fill="none" stroke="#2a86c8" stroke-width="1.6"/>
<path d="M255.5,291.6 C262.92,291.72 286.75,292.15 300,292.3 C313.25,292.45 321.67,292.75 335,292.5 C348.33,292.25 365.78,291.45 380,290.8 C394.22,290.15 413.58,288.97 420.3,288.6" fill="none" stroke="#4aa43a" stroke-width="1.6"/>
<circle cx="255.2" cy="283.5" r="2.25" fill="none" stroke="#4aa3de" stroke-width="1.3"/>
<circle cx="268.96" cy="283.3" r="2.25" fill="none" stroke="#4aa3de" stroke-width="1.3"/>
<circle cx="282.72" cy="282.1" r="2.25" fill="none" stroke="#4aa3de" stroke-width="1.3"/>
<circle cx="296.48" cy="283.3" r="2.25" fill="none" stroke="#4aa3de" stroke-width="1.3"/>
<circle cx="310.24" cy="279.5" r="2.25" fill="none" stroke="#4aa3de" stroke-width="1.3"/>
<circle cx="324" cy="278.4" r="2.25" fill="none" stroke="#4aa3de" stroke-width="1.3"/>
<circle cx="337.76" cy="275" r="2.25" fill="none" stroke="#4aa3de" stroke-width="1.3"/>
<circle cx="351.52" cy="277.4" r="2.25" fill="none" stroke="#4aa3de" stroke-width="1.3"/>
<circle cx="365.28" cy="276.2" r="2.25" fill="none" stroke="#4aa3de" stroke-width="1.3"/>
<circle cx="379.04" cy="272.5" r="2.25" fill="none" stroke="#4aa3de" stroke-width="1.3"/>
<circle cx="392.8" cy="271" r="2.25" fill="none" stroke="#4aa3de" stroke-width="1.3"/>
<circle cx="406.56" cy="272.2" r="2.25" fill="none" stroke="#4aa3de" stroke-width="1.3"/>
<circle cx="420.32" cy="271.9" r="2.25" fill="none" stroke="#4aa3de" stroke-width="1.3"/>
<circle cx="255.2" cy="293.8" r="2.25" fill="none" stroke="#6cc45a" stroke-width="1.3"/>
<circle cx="268.96" cy="291.2" r="2.25" fill="none" stroke="#6cc45a" stroke-width="1.3"/>
<circle cx="282.72" cy="291.5" r="2.25" fill="none" stroke="#6cc45a" stroke-width="1.3"/>
<circle cx="296.48" cy="292.2" r="2.25" fill="none" stroke="#6cc45a" stroke-width="1.3"/>
<circle cx="310.24" cy="292.7" r="2.25" fill="none" stroke="#6cc45a" stroke-width="1.3"/>
<circle cx="324" cy="293.1" r="2.25" fill="none" stroke="#6cc45a" stroke-width="1.3"/>
<circle cx="337.76" cy="292" r="2.25" fill="none" stroke="#6cc45a" stroke-width="1.3"/>
<circle cx="351.52" cy="292.8" r="2.25" fill="none" stroke="#6cc45a" stroke-width="1.3"/>
<circle cx="365.28" cy="293.4" r="2.25" fill="none" stroke="#6cc45a" stroke-width="1.3"/>
<circle cx="379.04" cy="289.1" r="2.25" fill="none" stroke="#6cc45a" stroke-width="1.3"/>
<circle cx="392.8" cy="288.3" r="2.25" fill="none" stroke="#6cc45a" stroke-width="1.3"/>
<circle cx="406.56" cy="289.7" r="2.25" fill="none" stroke="#6cc45a" stroke-width="1.3"/>
<circle cx="420.32" cy="287.4" r="2.25" fill="none" stroke="#6cc45a" stroke-width="1.3"/>
<rect x="247.4" y="307.2" width="180.4" height="45.3" fill="none" stroke="#555" stroke-width="1.1"/>
<line x1="244.8" y1="316.34" x2="247.4" y2="316.34" stroke="#555" stroke-width="0.9" />
<line x1="244.8" y1="334.2" x2="247.4" y2="334.2" stroke="#555" stroke-width="0.9" />
<line x1="244.8" y1="352.06" x2="247.4" y2="352.06" stroke="#555" stroke-width="0.9" />
<line x1="245.7" y1="325.27" x2="247.4" y2="325.27" stroke="#555" stroke-width="0.9" />
<line x1="245.7" y1="343.13" x2="247.4" y2="343.13" stroke="#555" stroke-width="0.9" />
<line x1="261.5" y1="352.5" x2="261.5" y2="355.3" stroke="#555" stroke-width="0.9" />
<line x1="314" y1="352.5" x2="314" y2="355.3" stroke="#555" stroke-width="0.9" />
<line x1="366.5" y1="352.5" x2="366.5" y2="355.3" stroke="#555" stroke-width="0.9" />
<line x1="419" y1="352.5" x2="419" y2="355.3" stroke="#555" stroke-width="0.9" />
<line x1="287.75" y1="352.5" x2="287.75" y2="354.3" stroke="#555" stroke-width="0.9" />
<line x1="340.25" y1="352.5" x2="340.25" y2="354.3" stroke="#555" stroke-width="0.9" />
<line x1="392.75" y1="352.5" x2="392.75" y2="354.3" stroke="#555" stroke-width="0.9" />
<text x="244.3" y="319.94" font-size="8.9" fill="#111" text-anchor="end" >10</text>
<text x="244.3" y="337.8" font-size="8.9" fill="#111" text-anchor="end" >0</text>
<text x="244.3" y="355.66" font-size="8.9" fill="#111" text-anchor="end" >-10</text>
<text x="252.6" y="315.1" font-size="8.6" fill="#111" text-anchor="start" >425 K</text>
<path d="M255.5,331.6 C262.92,331.2 286.75,330.08 300,329.2 C313.25,328.32 321.67,327.27 335,326.3 C348.33,325.33 365.78,324.35 380,323.4 C394.22,322.45 413.58,321.07 420.3,320.6" fill="none" stroke="#2a86c8" stroke-width="1.6"/>
<path d="M255.5,341 C261.25,341.2 277.58,342.07 290,342.2 C302.42,342.33 315,342.1 330,341.8 C345,341.5 364.95,340.9 380,340.4 C395.05,339.9 413.58,339.07 420.3,338.8" fill="none" stroke="#4aa43a" stroke-width="1.6"/>
<circle cx="255.2" cy="332" r="2.25" fill="none" stroke="#4aa3de" stroke-width="1.3"/>
<circle cx="268.96" cy="332.5" r="2.25" fill="none" stroke="#4aa3de" stroke-width="1.3"/>
<circle cx="282.72" cy="332.5" r="2.25" fill="none" stroke="#4aa3de" stroke-width="1.3"/>
<circle cx="296.48" cy="331.1" r="2.25" fill="none" stroke="#4aa3de" stroke-width="1.3"/>
<circle cx="310.24" cy="329.7" r="2.25" fill="none" stroke="#4aa3de" stroke-width="1.3"/>
<circle cx="324" cy="327.1" r="2.25" fill="none" stroke="#4aa3de" stroke-width="1.3"/>
<circle cx="337.76" cy="327.5" r="2.25" fill="none" stroke="#4aa3de" stroke-width="1.3"/>
<circle cx="351.52" cy="323.8" r="2.25" fill="none" stroke="#4aa3de" stroke-width="1.3"/>
<circle cx="365.28" cy="326.8" r="2.25" fill="none" stroke="#4aa3de" stroke-width="1.3"/>
<circle cx="379.04" cy="321.4" r="2.25" fill="none" stroke="#4aa3de" stroke-width="1.3"/>
<circle cx="392.8" cy="319.4" r="2.25" fill="none" stroke="#4aa3de" stroke-width="1.3"/>
<circle cx="406.56" cy="319.4" r="2.25" fill="none" stroke="#4aa3de" stroke-width="1.3"/>
<circle cx="420.32" cy="318.9" r="2.25" fill="none" stroke="#4aa3de" stroke-width="1.3"/>
<circle cx="255.2" cy="342.3" r="2.25" fill="none" stroke="#6cc45a" stroke-width="1.3"/>
<circle cx="268.96" cy="345" r="2.25" fill="none" stroke="#6cc45a" stroke-width="1.3"/>
<circle cx="282.72" cy="341.5" r="2.25" fill="none" stroke="#6cc45a" stroke-width="1.3"/>
<circle cx="296.48" cy="343.7" r="2.25" fill="none" stroke="#6cc45a" stroke-width="1.3"/>
<circle cx="310.24" cy="343.7" r="2.25" fill="none" stroke="#6cc45a" stroke-width="1.3"/>
<circle cx="324" cy="341" r="2.25" fill="none" stroke="#6cc45a" stroke-width="1.3"/>
<circle cx="337.76" cy="340.7" r="2.25" fill="none" stroke="#6cc45a" stroke-width="1.3"/>
<circle cx="351.52" cy="343.2" r="2.25" fill="none" stroke="#6cc45a" stroke-width="1.3"/>
<circle cx="365.28" cy="343.2" r="2.25" fill="none" stroke="#6cc45a" stroke-width="1.3"/>
<circle cx="379.04" cy="340.2" r="2.25" fill="none" stroke="#6cc45a" stroke-width="1.3"/>
<circle cx="392.8" cy="339.5" r="2.25" fill="none" stroke="#6cc45a" stroke-width="1.3"/>
<circle cx="406.56" cy="335.8" r="2.25" fill="none" stroke="#6cc45a" stroke-width="1.3"/>
<circle cx="420.32" cy="336.6" r="2.25" fill="none" stroke="#6cc45a" stroke-width="1.3"/>
<text x="261.5" y="363.8" font-size="9" fill="#111" text-anchor="middle" >0.5</text>
<text x="314" y="363.8" font-size="9" fill="#111" text-anchor="middle" >0.8</text>
<text x="366.5" y="363.8" font-size="9" fill="#111" text-anchor="middle" >1.1</text>
<text x="419" y="363.8" font-size="9" fill="#111" text-anchor="middle" >1.4</text>
<text x="338.2" y="378.2" font-size="9.6" fill="#111" text-anchor="middle" >Frequency (THz)</text>
<text transform="translate(229.8,281) rotate(-90)" font-size="10" fill="#1a1a1a" text-anchor="middle">&#916;<tspan font-style="italic">&#963;</tspan> (S/m)</text>
<text x="448.5" y="207" font-size="17.8" fill="#111" text-anchor="start" textLength="23.4" lengthAdjust="spacingAndGlyphs">(e)</text>
<rect x="495" y="244" width="23.2" height="102" fill="#e0eada"/>
<rect x="562.9" y="255.2" width="23" height="90.8" fill="#e0eada"/>
<rect x="611.1" y="261" width="23.5" height="85" fill="#e0eada"/>
<line x1="477.6" y1="346" x2="651.4" y2="346" stroke="#9a9a9a" stroke-width="1" stroke-dasharray="3 2.2"/>
<line x1="506.8" y1="231.6" x2="506.8" y2="256.5" stroke="#68b07f" stroke-width="1.1" />
<line x1="504.8" y1="231.6" x2="508.8" y2="231.6" stroke="#68b07f" stroke-width="1.1" />
<line x1="504.8" y1="256.5" x2="508.8" y2="256.5" stroke="#68b07f" stroke-width="1.1" />
<line x1="574.6" y1="237.9" x2="574.6" y2="271.3" stroke="#68b07f" stroke-width="1.1" />
<line x1="572.6" y1="237.9" x2="576.6" y2="237.9" stroke="#68b07f" stroke-width="1.1" />
<line x1="572.6" y1="271.3" x2="576.6" y2="271.3" stroke="#68b07f" stroke-width="1.1" />
<line x1="622.7" y1="247.5" x2="622.7" y2="275" stroke="#68b07f" stroke-width="1.1" />
<line x1="620.7" y1="247.5" x2="624.7" y2="247.5" stroke="#68b07f" stroke-width="1.1" />
<line x1="620.7" y1="275" x2="624.7" y2="275" stroke="#68b07f" stroke-width="1.1" />
<polyline points="506.8,250.2 574.6,254.8 622.7,257.3" fill="none" stroke="#e4473d" stroke-width="1.6"/>
<circle cx="506.8" cy="250.2" r="2.9" fill="#fde9df" stroke="#e4473d" stroke-width="1.6"/>
<line x1="505.2" y1="250.2" x2="508.4" y2="250.2" stroke="#e4473d" stroke-width="1.1" />
<circle cx="574.6" cy="254.8" r="2.9" fill="#fde9df" stroke="#e4473d" stroke-width="1.6"/>
<line x1="573" y1="254.8" x2="576.2" y2="254.8" stroke="#e4473d" stroke-width="1.1" />
<circle cx="622.7" cy="257.3" r="2.9" fill="#fde9df" stroke="#e4473d" stroke-width="1.6"/>
<line x1="621.1" y1="257.3" x2="624.3" y2="257.3" stroke="#e4473d" stroke-width="1.1" />
<polyline points="506.8,344.9 574.6,343.2 622.7,341.3" fill="none" stroke="#2b4f88" stroke-width="1.6"/>
<line x1="506.8" y1="340.4" x2="506.8" y2="349.8" stroke="#2b4f88" stroke-width="1.1" />
<line x1="505" y1="340.4" x2="508.6" y2="340.4" stroke="#2b4f88" stroke-width="1.1" />
<line x1="505" y1="349.8" x2="508.6" y2="349.8" stroke="#2b4f88" stroke-width="1.1" />
<circle cx="506.8" cy="344.9" r="2.9" fill="#e4ecf6" fill-opacity="0.7" stroke="#2b4f88" stroke-width="1.6"/>
<line x1="574.6" y1="339.5" x2="574.6" y2="346.9" stroke="#2b4f88" stroke-width="1.1" />
<line x1="572.8" y1="339.5" x2="576.4" y2="339.5" stroke="#2b4f88" stroke-width="1.1" />
<line x1="572.8" y1="346.9" x2="576.4" y2="346.9" stroke="#2b4f88" stroke-width="1.1" />
<circle cx="574.6" cy="343.2" r="2.9" fill="#e4ecf6" fill-opacity="0.7" stroke="#2b4f88" stroke-width="1.6"/>
<line x1="622.7" y1="336" x2="622.7" y2="346.2" stroke="#2b4f88" stroke-width="1.1" />
<line x1="620.9" y1="336" x2="624.5" y2="336" stroke="#2b4f88" stroke-width="1.1" />
<line x1="620.9" y1="346.2" x2="624.5" y2="346.2" stroke="#2b4f88" stroke-width="1.1" />
<circle cx="622.7" cy="341.3" r="2.9" fill="#e4ecf6" fill-opacity="0.7" stroke="#2b4f88" stroke-width="1.6"/>
<path d="M499.2,248.8 C495.5,245.6 489.5,244.4 486.2,247.6 C484.2,249.6 482.8,252 481.8,254" fill="none" stroke="#e8403c" stroke-width="2.2" stroke-linecap="round"/>
<polygon points="479.2,259.4 479.8,251.6 486.0,254.8" fill="#e8403c"/>
<path d="M500.8,345.5 C497,348.2 492,349.6 488.4,347.6 C486,346.2 484,343 482.6,340.3" fill="none" stroke="#2b4f88" stroke-width="2.2" stroke-linecap="round"/>
<polygon points="479.6,335.2 480.4,342.6 486.6,339.4" fill="#2b4f88"/>
<path d="M626.9,304.2 C629,298 631.5,290.4 634.4,287.2 C636.4,285.2 638.8,285.4 641.2,286.4" fill="none" stroke="#48a03c" stroke-width="2.3" stroke-linecap="round"/>
<polygon points="646.1,289.2 640.2,282.2 638.4,287.8" fill="#48a03c"/>
<line x1="477.6" y1="217.3" x2="651.4" y2="217.3" stroke="#555" stroke-width="1" />
<line x1="477.6" y1="354.3" x2="651.4" y2="354.3" stroke="#555" stroke-width="1" />
<line x1="477.6" y1="217.3" x2="477.6" y2="354.3" stroke="#555" stroke-width="1" />
<line x1="651.4" y1="217.3" x2="651.4" y2="354.3" stroke="#78bd66" stroke-width="1" />
<line x1="474.8" y1="346.2" x2="477.6" y2="346.2" stroke="#555" stroke-width="0.9" />
<line x1="475.8" y1="332.18" x2="477.6" y2="332.18" stroke="#555" stroke-width="0.9" />
<line x1="474.8" y1="318.15" x2="477.6" y2="318.15" stroke="#555" stroke-width="0.9" />
<line x1="475.8" y1="304.12" x2="477.6" y2="304.12" stroke="#555" stroke-width="0.9" />
<line x1="474.8" y1="290.1" x2="477.6" y2="290.1" stroke="#555" stroke-width="0.9" />
<line x1="475.8" y1="276.07" x2="477.6" y2="276.07" stroke="#555" stroke-width="0.9" />
<line x1="474.8" y1="262.05" x2="477.6" y2="262.05" stroke="#555" stroke-width="0.9" />
<line x1="475.8" y1="248.02" x2="477.6" y2="248.02" stroke="#555" stroke-width="0.9" />
<line x1="474.8" y1="234" x2="477.6" y2="234" stroke="#555" stroke-width="0.9" />
<line x1="475.8" y1="219.97" x2="477.6" y2="219.97" stroke="#555" stroke-width="0.9" />
<text x="472.8" y="349.6" font-size="9.5" fill="#111" text-anchor="end" >0.00</text>
<text x="472.8" y="321.55" font-size="9.5" fill="#111" text-anchor="end" >0.01</text>
<text x="472.8" y="293.5" font-size="9.5" fill="#111" text-anchor="end" >0.02</text>
<text x="472.8" y="265.45" font-size="9.5" fill="#111" text-anchor="end" >0.03</text>
<text x="472.8" y="237.4" font-size="9.5" fill="#111" text-anchor="end" >0.04</text>
<line x1="649" y1="345.8" x2="651.4" y2="345.8" stroke="#64b450" stroke-width="0.9" />
<line x1="649.9" y1="332.93" x2="651.4" y2="332.93" stroke="#64b450" stroke-width="0.9" />
<line x1="649" y1="320.05" x2="651.4" y2="320.05" stroke="#64b450" stroke-width="0.9" />
<line x1="649.9" y1="307.18" x2="651.4" y2="307.18" stroke="#64b450" stroke-width="0.9" />
<line x1="649" y1="294.3" x2="651.4" y2="294.3" stroke="#64b450" stroke-width="0.9" />
<line x1="649.9" y1="281.43" x2="651.4" y2="281.43" stroke="#64b450" stroke-width="0.9" />
<line x1="649" y1="268.55" x2="651.4" y2="268.55" stroke="#64b450" stroke-width="0.9" />
<line x1="649.9" y1="255.68" x2="651.4" y2="255.68" stroke="#64b450" stroke-width="0.9" />
<line x1="649" y1="242.8" x2="651.4" y2="242.8" stroke="#64b450" stroke-width="0.9" />
<line x1="649.9" y1="229.93" x2="651.4" y2="229.93" stroke="#64b450" stroke-width="0.9" />
<line x1="649" y1="217.05" x2="651.4" y2="217.05" stroke="#64b450" stroke-width="0.9" />
<text x="655.4" y="348.6" font-size="9.5" fill="#64b450" text-anchor="start" >0</text>
<text x="655.4" y="322.85" font-size="9.5" fill="#64b450" text-anchor="start" >25</text>
<text x="655.4" y="297.1" font-size="9.5" fill="#64b450" text-anchor="start" >50</text>
<text x="655.4" y="271.35" font-size="9.5" fill="#64b450" text-anchor="start" >75</text>
<text x="655.4" y="245.6" font-size="9.5" fill="#64b450" text-anchor="start" >100</text>
<text x="655.4" y="219.85" font-size="9.5" fill="#64b450" text-anchor="start" >125</text>
<line x1="506.8" y1="354.3" x2="506.8" y2="357.1" stroke="#555" stroke-width="0.9" />
<line x1="574.6" y1="354.3" x2="574.6" y2="357.1" stroke="#555" stroke-width="0.9" />
<line x1="622.7" y1="354.3" x2="622.7" y2="357.1" stroke="#555" stroke-width="0.9" />
<line x1="540.7" y1="354.3" x2="540.7" y2="356.1" stroke="#555" stroke-width="0.9" />
<line x1="598.6" y1="354.3" x2="598.6" y2="356.1" stroke="#555" stroke-width="0.9" />
<text x="506.8" y="365.8" font-size="9.5" fill="#111" text-anchor="middle" >78</text>
<text x="574.6" y="365.8" font-size="9.5" fill="#111" text-anchor="middle" >280</text>
<text x="622.7" y="365.8" font-size="9.5" fill="#111" text-anchor="middle" >425</text>
<text x="565.1" y="382" font-size="10.6" fill="#111" text-anchor="middle" >Temperature (K)</text>
<text transform="translate(450.8,286) rotate(-90)" font-size="10.8" fill="#1a1a1a" text-anchor="middle"><tspan font-style="italic">&#981;&#956;</tspan> (cm<tspan font-size="7.4" dy="-3.6">2</tspan><tspan dy="3.6"> V</tspan><tspan font-size="7.4" dy="-3.6">-1</tspan><tspan dy="3.6"> s</tspan><tspan font-size="7.4" dy="-3.6">-1</tspan><tspan dy="3.6">)</tspan></text>
<text transform="translate(684,286) rotate(-90)" font-size="10.5" fill="#64b450" text-anchor="middle"><tspan font-style="italic">&#964;</tspan> (fs)</text>
<line x1="571.3" y1="223.4" x2="587.3" y2="223.4" stroke="#e4473d" stroke-width="1.6" />
<circle cx="579.5" cy="223.3" r="2.7" fill="#fbe6cf" stroke="#e4473d" stroke-width="1.5"/>
<text x="589.9" y="226" font-size="7.75" fill="#000" text-anchor="start" >Band-like regime</text>
<line x1="571.3" y1="232.4" x2="587.3" y2="232.4" stroke="#2b4f88" stroke-width="1.6" />
<circle cx="579.5" cy="232.4" r="2.7" fill="#dfe8f3" stroke="#2b4f88" stroke-width="1.5"/>
<text x="589.9" y="235.1" font-size="7.75" fill="#000" text-anchor="start" >Hopping regime</text>
</svg>
</body></html>
